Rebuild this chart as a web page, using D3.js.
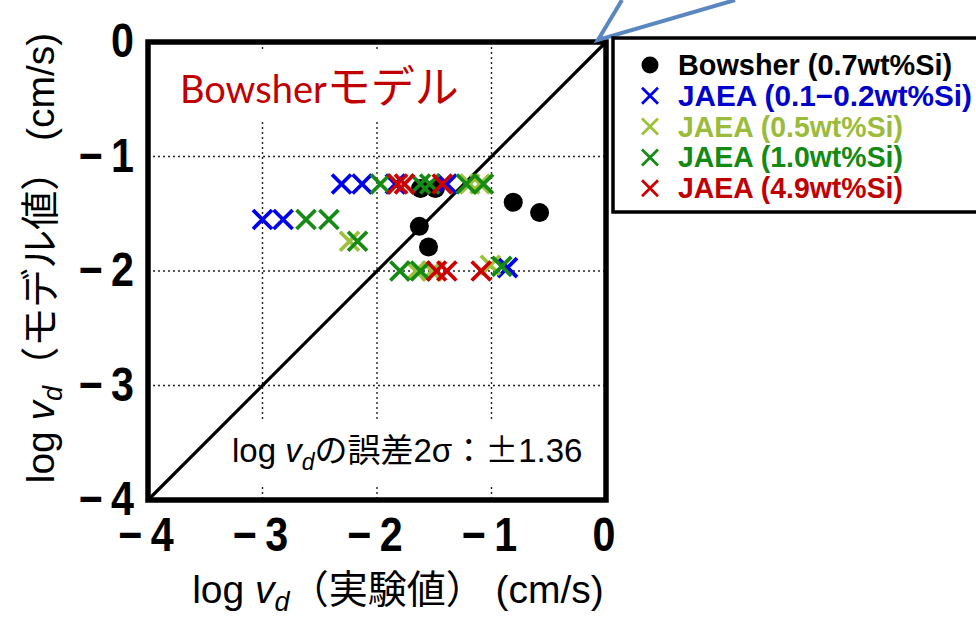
<!DOCTYPE html>
<html>
<head>
<meta charset="utf-8">
<script src="https://cdn.jsdelivr.net/npm/d3@7"></script>
<style>
  body { margin: 0; background: #fff; }
  svg { display: block; }
</style>
</head>
<body>
<div class="chart"></div>
<script>
const width = 976
const height = 617

// tick values (both axes)
const ticks = [-4, -3, -2, -1, 0]

// Bowsher model (0.7wt%Si) — black circles
const bowsherX = [-1.62, -1.49, -1.63, -1.55, -0.81, -0.58]
const bowsherY = [-1.28, -1.28, -1.61, -1.79, -1.40, -1.49]

// JAEA series (x = experiment, y = model)
const jaeaBlueX = [-3.0, -2.82, -2.31, -2.13, -1.84, -1.39, -0.86]
const jaeaBlueY = [-1.55, -1.55, -1.24, -1.24, -1.24, -1.24, -1.97]
const jaeaYgX = [-2.24, -1.19, -1.10, -1.66, -1.52, -1.01]
const jaeaYgY = [-1.74, -1.24, -1.24, -2.0, -2.0, -1.95]
const jaeaGreenX = [-2.62, -2.42, -2.17, -1.97, -1.62, -1.54, -1.22, -1.07, -1.80, -1.62, -0.91]
const jaeaGreenY = [-1.55, -1.55, -1.74, -1.24, -1.24, -1.24, -1.24, -1.24, -2.0, -2.0, -1.96]
const jaeaRedX = [-1.82, -1.76, -1.43, -1.48, -1.39, -1.09]
const jaeaRedY = [-1.24, -1.24, -1.24, -2.0, -2.0, -2.0]

const legendLabels = ["Bowsher (0.7wt%Si)", "JAEA (0.1−0.2wt%Si)", "JAEA (0.5wt%Si)", "JAEA (1.0wt%Si)", "JAEA (4.9wt%Si)"]

const series = [
    { xs: jaeaBlueX, ys: jaeaBlueY, color: "#0000ee", text: "#0000cc" },
    { xs: jaeaYgX, ys: jaeaYgY, color: "#9dc23a", text: "#9bbb3b" },
    { xs: jaeaGreenX, ys: jaeaGreenY, color: "#158a15", text: "#138a13" },
    { xs: jaeaRedX, ys: jaeaRedY, color: "#cc0000", text: "#c00000" }
]

const x = d3.scaleLinear().domain([-4, 0]).range([148, 606])
const y = d3.scaleLinear().domain([-4, 0]).range([500, 42])

const svg = d3.select(".chart")
    .append("svg")
    .attr("width", width)
    .attr("height", height)

const tickFont = "'Liberation Sans', Arial, sans-serif"
const labFont = "'Liberation Sans', Arial, 'Noto Sans CJK JP', sans-serif"
const tickText = d => d === 0 ? "0" : "−\u2009" + Math.abs(d)

// grid (dotted)
const grid = svg.append("g")
grid.selectAll("line.v")
    .data(ticks.slice(1, 4))
    .join("line")
    .attr("class", "v")
    .attr("x1", d => x(d)).attr("x2", d => x(d))
    .attr("y1", y(0)).attr("y2", y(-4))
    .attr("stroke", "#222").attr("stroke-width", 1.4)
    .attr("stroke-dasharray", "2,3")
grid.selectAll("line.h")
    .data(ticks.slice(1, 4))
    .join("line")
    .attr("class", "h")
    .attr("x1", x(-4)).attr("x2", x(0))
    .attr("y1", d => y(d)).attr("y2", d => y(d))
    .attr("stroke", "#222").attr("stroke-width", 1.4)
    .attr("stroke-dasharray", "2,3")

// white boxes behind the annotations
svg.append("rect").attr("x", 152).attr("y", 52).attr("width", 334).attr("height", 68).attr("fill", "#fff")
svg.append("rect").attr("x", 224).attr("y", 420).attr("width", 376).attr("height", 64).attr("fill", "#fff")

// 1:1 line
svg.append("line")
    .attr("x1", x(-4)).attr("y1", y(-4))
    .attr("x2", x(0)).attr("y2", y(0))
    .attr("stroke", "#000").attr("stroke-width", 3.2)

// Bowsher circles
svg.append("g")
    .selectAll("circle")
    .data(bowsherX.map((v, i) => [v, bowsherY[i]]))
    .join("circle")
    .attr("cx", d => x(d[0]))
    .attr("cy", d => y(d[1]))
    .attr("r", 9.5)
    .attr("fill", "#000")

// JAEA crosses
const crossPath = s => `M${-s},${-s}L${s},${s}M${-s},${s}L${s},${-s}`
series.forEach(s => {
    svg.append("g")
        .selectAll("path")
        .data(s.xs.map((v, i) => [v, s.ys[i]]))
        .join("path")
        .attr("transform", d => `translate(${x(d[0])},${y(d[1])})`)
        .attr("d", crossPath(9.5))
        .attr("stroke", s.color)
        .attr("stroke-width", 3.8)
        .attr("fill", "none")
})

// frame
svg.append("rect")
    .attr("x", x(-4)).attr("y", y(0))
    .attr("width", x(0) - x(-4)).attr("height", y(-4) - y(0))
    .attr("fill", "none").attr("stroke", "#000").attr("stroke-width", 5.5)

// tick labels (narrowed bold face)
svg.append("g")
    .selectAll("text")
    .data(ticks)
    .join("text")
    .attr("transform", d => `translate(${x(d) - 2},551) scale(0.86,1)`)
    .attr("text-anchor", "middle")
    .attr("font-family", tickFont)
    .attr("font-weight", "bold")
    .attr("font-size", 48)
    .text(tickText)

svg.append("g")
    .selectAll("text")
    .data(ticks)
    .join("text")
    .attr("transform", d => `translate(134,${y(d) + 15}) scale(0.86,1)`)
    .attr("text-anchor", "end")
    .attr("font-family", tickFont)
    .attr("font-weight", "bold")
    .attr("font-size", 48)
    .text(tickText)

// axis titles
function axisTitle(g, mid) {
    g.attr("font-family", labFont).attr("font-size", 39).attr("fill", "#000")
    g.append("tspan").text("log ")
    g.append("tspan").attr("font-style", "italic").text("v")
    g.append("tspan").attr("font-style", "italic").attr("font-size", 27).attr("dy", 8).text("d")
    g.append("tspan").attr("dy", -8).attr("font-family", "'Noto Sans CJK JP', sans-serif").text(mid)
    g.append("tspan").text(" (cm/s)")
}
axisTitle(svg.append("text").attr("x", 398).attr("y", 603).attr("text-anchor", "middle"), "（実験値）")
axisTitle(svg.append("text").attr("transform", "translate(54,258) rotate(-90)").attr("text-anchor", "middle"), "（モデル値）")

// annotations
const bw = svg.append("text").attr("x", 180).attr("y", 103).attr("fill", "#c00000")
bw.append("tspan").attr("font-family", "Lato, 'Noto Sans', sans-serif").attr("font-size", 38).text("Bowsher")
bw.append("tspan").attr("font-family", "'Noto Sans CJK JP', sans-serif").attr("font-size", 44).text("モデル")

const err = svg.append("text").attr("x", 232).attr("y", 462)
    .attr("font-family", labFont).attr("font-size", 33).attr("fill", "#000")
err.append("tspan").text("log ")
err.append("tspan").attr("font-style", "italic").text("v")
err.append("tspan").attr("font-style", "italic").attr("font-size", 23).attr("dy", 8).text("d")
err.append("tspan").attr("dy", -8).attr("font-family", "'Noto Sans CJK JP', sans-serif").text("の誤差")
err.append("tspan").text("2σ")
err.append("tspan").attr("font-family", "'Noto Sans CJK JP', sans-serif").text("：±")
err.append("tspan").text("1.36")

// callout lines
svg.append("path")
    .attr("d", "M622,0L598,40L735,0")
    .attr("fill", "none").attr("stroke", "#5b87c0").attr("stroke-width", 4)

// legend
const lg = svg.append("g")
lg.append("rect")
    .attr("x", 613).attr("y", 38).attr("width", 400).attr("height", 174)
    .attr("fill", "#fff").attr("stroke", "#000").attr("stroke-width", 3.5)

const legendColors = ["#000"].concat(series.map(s => s.text))
const legendWidths = [274, 294, 225, 225, 225]
legendLabels.forEach((t, i) => {
    const yy = 75 + i * 30.8
    if (i === 0) {
        lg.append("circle").attr("cx", 650).attr("cy", yy - 10).attr("r", 8.5).attr("fill", "#000")
    } else {
        lg.append("path")
            .attr("transform", `translate(650,${yy - 10})`)
            .attr("d", crossPath(8))
            .attr("stroke", series[i - 1].color).attr("stroke-width", 2.8).attr("fill", "none")
    }
    lg.append("text")
        .attr("x", 678).attr("y", yy)
        .attr("font-family", tickFont)
        .attr("font-weight", "bold")
        .attr("font-size", 29)
        .attr("fill", legendColors[i])
        .attr("textLength", legendWidths[i])
        .attr("lengthAdjust", "spacingAndGlyphs")
        .text(t)
})
</script>
</body>
</html>
